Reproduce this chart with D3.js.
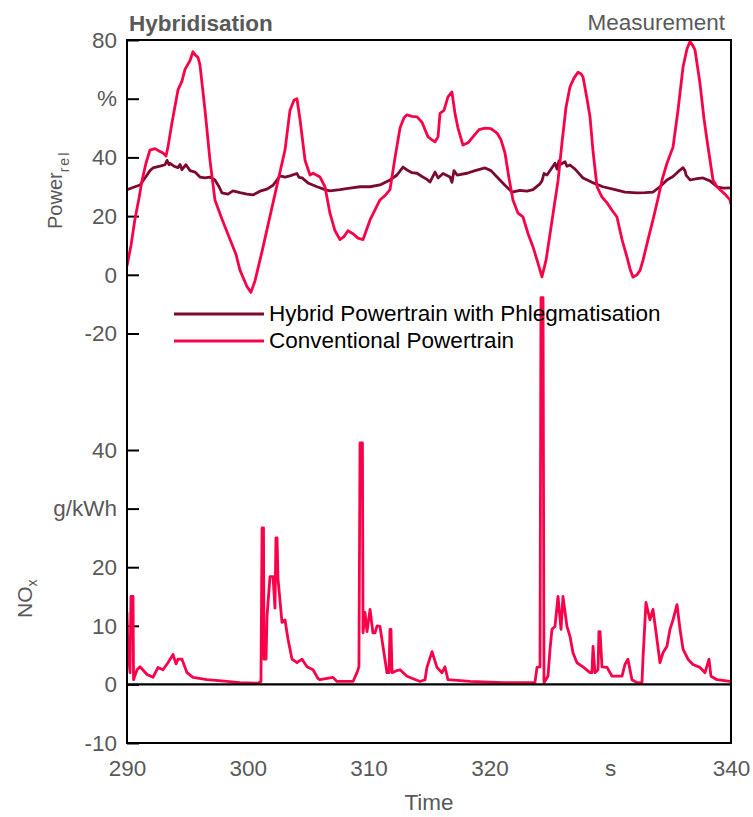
<!DOCTYPE html>
<html>
<head>
<meta charset="utf-8">
<script src="https://cdn.jsdelivr.net/npm/d3@7"></script>
<style>
  html, body { margin: 0; padding: 0; background: #fff; }
  svg { display: block; }
  text { font-family: "Liberation Sans", Arial, sans-serif; }
</style>
</head>
<body>
<svg id="chart" width="753" height="817"></svg>
<script>
// ---------------- data ----------------
const convTime = [290.00,290.33,290.66,290.99,291.24,291.57,291.90,292.32,292.73,292.98,293.23,293.39,293.73,294.22,294.55,294.80,295.22,295.46,295.63,295.88,296.04,296.46,296.87,297.28,297.86,298.53,299.02,299.35,299.93,300.26,300.60,301.18,301.84,302.50,303.08,303.49,303.82,304.07,304.32,304.74,305.15,305.40,305.98,306.39,306.80,307.22,307.63,307.96,308.29,308.71,309.12,309.54,310.12,310.94,311.36,311.77,312.19,312.60,312.93,313.18,313.59,314.01,314.42,314.92,315.25,315.50,315.75,315.91,316.24,316.57,316.90,317.15,317.40,317.81,318.23,318.64,319.14,319.64,320.13,320.63,320.96,321.29,321.62,321.95,322.37,322.78,323.20,323.61,324.02,324.35,324.69,325.02,325.35,325.68,326.01,326.34,326.67,327.00,327.33,327.58,327.75,328.08,328.33,328.58,328.91,329.32,329.74,330.15,330.56,330.98,331.39,331.64,331.89,332.22,332.47,332.72,333.13,333.54,333.96,334.29,334.70,335.20,335.61,336.03,336.36,336.61,336.85,337.02,337.43,337.77,338.01,338.51,338.84,339.09,339.50,339.92,340.00];
const convPower = [3,10,19,26,32,38,42.5,43,42,41.5,40.5,43.5,52,63,66,70,73,76,75,74,71.5,56,39,25.5,19,12,7,1.6,-4,-6,-2,8,20,32,42.5,56,59.5,60,53,39,34,34.6,33.3,30,21,15,12,13,15,14,12.5,12,18.7,25.5,27,29,40,50,53.5,54.5,54,53.8,52,47,46,45.3,47,55,56,60.6,62.3,55,50,44.2,45,47,49.5,50,49.8,48.3,46,41.5,33,25.5,21,19.7,14,9.5,4,-0.7,5,14,23,32,45,57,64,67,69,68.5,67.4,60,53.8,42,30,26.5,24.5,22,19.7,12,6,2,-0.8,0,1.5,5,12,18.7,26,32.3,38,43.5,56,70.8,77,79.5,78,76.6,65.3,53,46,32.3,30,29,27.5,25.5,24];

const hybTime = [290.00,290.33,290.66,291.08,291.49,291.90,292.15,292.73,293.15,293.31,293.48,293.56,293.89,294.22,294.39,294.55,294.88,295.22,295.63,296.04,296.46,296.87,297.28,297.62,297.86,298.36,298.77,299.35,299.93,300.43,301.01,301.59,302.09,302.67,303.08,303.49,304.07,304.24,304.49,304.98,305.73,306.39,306.80,307.63,308.46,309.29,310.12,310.94,311.77,312.35,312.85,313.26,313.59,314.01,314.42,314.83,315.08,315.50,315.75,316.16,316.74,316.90,317.07,317.32,318.15,318.81,319.64,320.13,320.63,321.29,321.87,322.53,323.11,323.61,324.19,324.35,324.52,324.77,325.43,325.60,325.76,325.84,326.26,326.42,326.67,327.09,327.75,328.49,329.40,330.40,331.22,332.22,332.88,333.54,334.12,334.70,335.20,335.78,336.03,336.19,336.28,336.61,337.19,337.68,338.26,338.84,339.34,339.92];
const hybPower = [29,29.5,30,30.6,33,35.5,36.4,37,37.5,39,37.5,38,37,36.5,37.6,35.8,37.5,35.5,35,33.3,33,33.3,32.3,30,27.9,27.5,28.6,28,27.5,27.2,28.5,29.2,30.5,33.7,33.3,33.7,34.5,33.2,33,31.3,30,29,28.6,29,29.5,30,30,30.6,32.3,34,36.7,35.5,34.8,34.6,33.5,32.5,31.6,35,33,34.5,33.3,31.5,35.5,34,34.6,35.5,36.4,35.5,33.3,30.5,28.2,28.8,28.5,29,31,32,34.5,34,38,36,38.8,37.5,38.5,37,37.4,36,33,31.5,30,29,28.2,27.9,28,28.2,30,32.3,33.5,35.7,36.5,35.5,34,32.3,32.8,33,32,30,29.5,29.6];

const noxTime = [290.00,290.08,290.25,290.33,290.50,290.54,290.83,291.08,291.66,292.15,292.57,292.98,293.39,293.81,294.06,294.22,294.55,294.97,295.46,296.62,298.28,299.35,300.84,301.09,301.18,301.30,301.34,301.51,301.59,301.84,302.09,302.25,302.33,302.42,302.50,302.83,303.08,303.33,303.66,304.07,304.49,304.90,305.40,305.81,305.98,307.05,307.38,308.71,309.04,309.20,309.29,309.49,309.54,309.70,309.87,310.12,310.36,310.53,310.70,310.94,311.19,311.52,311.69,311.77,311.85,311.94,312.27,312.60,313.18,314.26,314.67,314.83,315.25,315.66,316.08,316.32,316.57,318.39,321.13,323.77,323.94,324.19,324.27,324.44,324.52,324.85,325.02,325.18,325.43,325.68,325.93,326.09,326.42,326.67,326.92,327.25,327.75,328.33,328.49,328.58,328.74,328.99,329.07,329.16,329.32,329.74,330.15,330.98,331.22,331.47,331.80,332.22,332.63,332.72,332.96,333.29,333.54,333.87,334.12,334.37,334.70,334.95,335.20,335.53,335.78,336.03,336.44,336.85,337.43,337.85,338.18,338.34,338.84,339.92,340.00];
const noxValue = [12.3,6,2,15,15,0.8,2.5,3,1.7,1.2,2.9,2.5,3.7,5.1,3.5,4.3,4.3,2,1.2,0.8,0.5,0.3,0.2,0.5,26.7,26.7,4.3,4.3,11.6,18.4,18.4,13,25,25,18,10.6,11,7.7,4.3,3.7,4.3,3,2.5,1,0.8,1.2,0.5,0.5,2,3,41.2,41.2,8.8,12.3,9,12.8,8.8,8.8,10,9.9,6.5,2,2,9.4,9.4,2,2.3,2.5,1.4,0.5,0.8,2.9,5.6,2.9,2,3,0.8,0.5,0.3,0.3,2.9,3,66,66,0.3,1.4,6,9.4,9.9,15,9.4,15,9.9,8.2,5.4,3.7,3,2,2,6.5,2,2.5,9,9,3,2.9,1.4,1.4,3.4,4.3,0.8,0.3,0.3,4.6,14,11,12.8,7.7,3.7,5.4,6.5,9.4,11,13.6,9.4,6,4.3,3.4,2.9,2,4.3,1.4,0.8,0.5,0.5];

const powerTicks = [80,60,40,20,0,-20];
const powerTickLabels = ["80","%","40","20","0","-20"];
const noxTicks = [40,30,20,10,0,-10];
const noxTickLabels = ["40","g/kWh","20","10","0","-10"];
const timeTicks = [290,300,310,320,330,340];
const timeTickLabels = ["290","300","310","320","s","340"];
const seriesNames = ["Hybrid Powertrain with Phlegmatisation","Conventional Powertrain"];
const seriesColors = ["#7b0a2c","#f8034a"];

// ---------------- layout ----------------
const L = 127, R = 731, T = 40, B = 743;
const grey = "#595959";
const FS = 22.5;
const svg = d3.select("#chart");

const x = d3.scaleLinear().domain([290,340]).range([L,R]);
const yP = d3.scaleLinear().domain([-20,80]).range([333.5,T]);
const yN = d3.scaleLinear().domain([-10,40]).range([B,450]);

svg.append("defs").append("clipPath").attr("id","clip")
  .append("rect").attr("x",L).attr("y",T).attr("width",R-L).attr("height",B-T);

// titles
svg.append("text").attr("x",129).attr("y",31).attr("fill",grey)
  .attr("font-size",FS).attr("font-weight","bold").text("Hybridisation");
svg.append("text").attr("x",725).attr("y",30).attr("fill",grey)
  .attr("font-size",FS).attr("text-anchor","end").text("Measurement");

// axes
function styleAxis(g){
  g.select(".domain").remove();
  g.selectAll(".tick line").attr("stroke","#000").attr("stroke-width",2);
  g.selectAll(".tick text").attr("fill",grey).attr("font-size",FS)
    .attr("font-family","'Liberation Sans', Arial, sans-serif");
}
svg.append("g").attr("transform",`translate(${L},0)`)
  .call(d3.axisLeft(yP).tickValues(powerTicks).tickSizeInner(-12).tickSizeOuter(0).tickPadding(10)
        .tickFormat((d,i)=>powerTickLabels[i]))
  .call(styleAxis);
svg.append("g").attr("transform",`translate(${L},0)`)
  .call(d3.axisLeft(yN).tickValues(noxTicks).tickSizeInner(-12).tickSizeOuter(0).tickPadding(10)
        .tickFormat((d,i)=>noxTickLabels[i]))
  .call(styleAxis);
svg.append("g").attr("transform",`translate(0,${B})`)
  .call(d3.axisBottom(x).tickValues(timeTicks).tickSizeInner(0).tickSizeOuter(0).tickPadding(17)
        .tickFormat((d,i)=>timeTickLabels[i]))
  .call(styleAxis);

// axis titles
const pl = svg.append("text").attr("transform","translate(62,229) rotate(-90)")
  .attr("fill",grey).attr("font-size",20);
pl.append("tspan").text("Power");
pl.append("tspan").attr("font-size",14).attr("dy",7).attr("letter-spacing",2).text("rel");
const nl = svg.append("text").attr("transform","translate(32,618) rotate(-90)")
  .attr("fill",grey).attr("font-size",21);
nl.append("tspan").text("NO");
nl.append("tspan").attr("font-size",14).attr("dy",5).text("x");
svg.append("text").attr("x",429).attr("y",810).attr("text-anchor","middle")
  .attr("fill",grey).attr("font-size",FS).text("Time");

// lines
const plot = svg.append("g").attr("clip-path","url(#clip)");
const lineP = d3.line().x(d=>x(d[0])).y(d=>yP(d[1]));
const lineN = d3.line().x(d=>x(d[0])).y(d=>yN(d[1]));
plot.append("path").datum(d3.zip(hybTime,hybPower)).attr("d",lineP)
  .attr("fill","none").attr("stroke",seriesColors[0]).attr("stroke-width",2.8).attr("stroke-linejoin","round");
plot.append("path").datum(d3.zip(convTime,convPower)).attr("d",lineP)
  .attr("fill","none").attr("stroke",seriesColors[1]).attr("stroke-width",2.8).attr("stroke-linejoin","round");
plot.append("path").datum(d3.zip(noxTime,noxValue)).attr("d",lineN)
  .attr("fill","none").attr("stroke",seriesColors[1]).attr("stroke-width",2.8).attr("stroke-linejoin","round");

// NOx zero line
svg.append("line").attr("x1",L).attr("x2",R).attr("y1",yN(0)).attr("y2",yN(0))
  .attr("stroke","#000").attr("stroke-width",2.2);

// frame
svg.append("rect").attr("x",L).attr("y",T).attr("width",R-L).attr("height",B-T)
  .attr("fill","none").attr("stroke","#000").attr("stroke-width",2);

// legend
const leg = svg.append("g");
seriesNames.forEach((n,i)=>{
  const yy = 314 + i*27;
  leg.append("line").attr("x1",174).attr("x2",264).attr("y1",yy).attr("y2",yy)
    .attr("stroke",seriesColors[i]).attr("stroke-width",3);
  leg.append("text").attr("x",269).attr("y",yy+7).attr("fill","#000")
    .attr("font-size",FS).text(n);
});
</script>
</body>
</html>
